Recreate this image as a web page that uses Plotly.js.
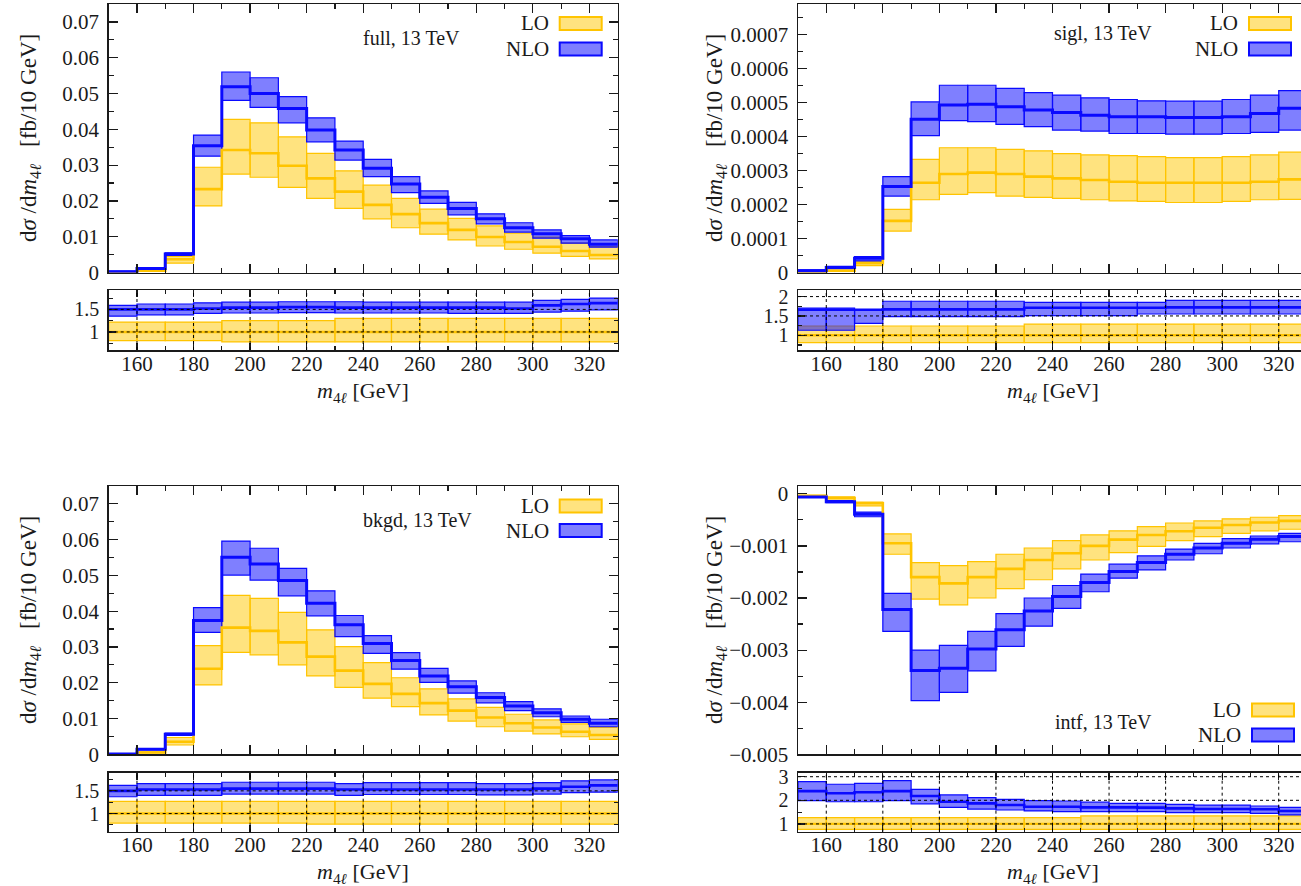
<!DOCTYPE html>
<html><head><meta charset="utf-8">
<script src="https://cdn.plot.ly/plotly-3.0.1.min.js"></script>
<style>html,body{margin:0;padding:0;background:#fff}#chart{width:1301px;height:886px}</style>
</head><body><div id="chart"></div><script>
// ---------------- DATA ----------------
const binEdges = [150,160,170,180,190,200,210,220,230,240,250,260,270,280,290,300,310,320,330];
const xTickVals = [160,180,200,220,240,260,280,300,320];
const xTickText = ['160','180','200','220','240','260','280','300','320'];

// full
const fullNLO   = [0.0002,0.0011,0.0052,0.0354,0.0519,0.0500,0.0458,0.0398,0.0342,0.0291,0.0247,0.0210,0.0179,0.0150,0.0125,0.0108,0.0094,0.0079];
const fullNLOhi = [0.0004,0.0013,0.0055,0.0384,0.0560,0.0544,0.0491,0.0432,0.0367,0.0316,0.0268,0.0228,0.0196,0.0164,0.0139,0.0119,0.0103,0.0091];
const fullNLOlo = [0.0001,0.0009,0.0048,0.0325,0.0481,0.0461,0.0418,0.0365,0.0314,0.0268,0.0223,0.0193,0.0161,0.0136,0.0113,0.0096,0.0082,0.0071];
const fullLO    = [0.0000,0.0005,0.0037,0.0233,0.0342,0.0333,0.0298,0.0263,0.0226,0.0189,0.0163,0.0138,0.0119,0.0099,0.0085,0.0072,0.0060,0.0049];
const fullLOhi  = [0.0001,0.0006,0.0045,0.0294,0.0428,0.0418,0.0379,0.0333,0.0284,0.0244,0.0207,0.0177,0.0151,0.0130,0.0110,0.0099,0.0082,0.0072];
const fullLOlo  = [0.0000,0.0004,0.0026,0.0186,0.0275,0.0266,0.0238,0.0207,0.0179,0.0150,0.0125,0.0107,0.0091,0.0074,0.0065,0.0054,0.0045,0.0038];
const fullRatLO    = [1,1,1,1,1,1,1,1,1,1,1,1,1,1,1,1,1,1];
const fullRatLOhi  = [1.22,1.22,1.22,1.22,1.25,1.25,1.25,1.25,1.30,1.30,1.30,1.30,1.30,1.30,1.30,1.30,1.30,1.30];
const fullRatLOlo  = [0.81,0.81,0.81,0.81,0.78,0.78,0.78,0.78,0.78,0.78,0.78,0.78,0.78,0.78,0.78,0.78,0.78,0.78];
const fullRatNLO   = [1.50,1.50,1.50,1.52,1.54,1.54,1.55,1.55,1.54,1.54,1.54,1.54,1.54,1.54,1.52,1.59,1.62,1.64];
const fullRatNLOhi = [1.59,1.62,1.62,1.645,1.66,1.66,1.67,1.67,1.67,1.66,1.66,1.66,1.66,1.66,1.66,1.70,1.72,1.75];
const fullRatNLOlo = [1.35,1.38,1.38,1.41,1.42,1.42,1.43,1.43,1.42,1.42,1.42,1.42,1.41,1.41,1.41,1.44,1.46,1.49];

// sigl
const siglNLO   = [0.000005,0.000015,0.000042,0.000253,0.000451,0.000493,0.000495,0.000488,0.000478,0.000471,0.000463,0.000458,0.000458,0.000456,0.000456,0.000458,0.000468,0.000483];
const siglNLOhi = [0.000008,0.000018,0.000047,0.000282,0.000502,0.000551,0.000551,0.000542,0.000529,0.000522,0.000514,0.000509,0.000505,0.000504,0.000504,0.000509,0.000522,0.000535];
const siglNLOlo = [0.000002,0.000011,0.000034,0.000225,0.000403,0.000447,0.000444,0.000436,0.000429,0.000419,0.000416,0.000409,0.000409,0.000407,0.000407,0.000409,0.000412,0.000419];
const siglLO    = [0.000001,0.000005,0.000027,0.000152,0.000264,0.000290,0.000294,0.000290,0.000282,0.000277,0.000272,0.000267,0.000264,0.000264,0.000264,0.000264,0.000267,0.000274];
const siglLOhi  = [0.000002,0.000007,0.000032,0.000186,0.000333,0.000367,0.000367,0.000362,0.000358,0.000350,0.000346,0.000344,0.000341,0.000338,0.000338,0.000341,0.000346,0.000354];
const siglLOlo  = [0.000001,0.000004,0.000020,0.000122,0.000214,0.000230,0.000235,0.000225,0.000221,0.000218,0.000214,0.000211,0.000209,0.000206,0.000206,0.000209,0.000214,0.000215];
const siglRatLO    = [1,1,1,1,1,1,1,1,1,1,1,1,1,1,1,1,1,1];
const siglRatLOhi  = [1.24,1.24,1.24,1.24,1.24,1.24,1.24,1.24,1.29,1.29,1.29,1.29,1.29,1.29,1.29,1.29,1.29,1.29];
const siglRatLOlo  = [0.81,0.81,0.81,0.81,0.81,0.81,0.81,0.81,0.81,0.81,0.81,0.81,0.81,0.81,0.81,0.81,0.81,0.81];
const siglRatNLO   = [1.66,1.66,1.66,1.67,1.67,1.67,1.67,1.67,1.71,1.71,1.71,1.71,1.71,1.72,1.72,1.72,1.72,1.72];
const siglRatNLOhi = [1.70,1.70,1.66,1.88,1.88,1.88,1.88,1.88,1.85,1.85,1.85,1.85,1.85,1.90,1.90,1.90,1.90,1.90];
const siglRatNLOlo = [1.13,1.13,1.31,1.48,1.48,1.48,1.48,1.48,1.51,1.51,1.51,1.51,1.55,1.55,1.55,1.55,1.55,1.55];

// bkgd
const bkgdNLO   = [0.0001,0.0014,0.0056,0.0374,0.0551,0.0532,0.0486,0.0422,0.0362,0.0310,0.0262,0.0219,0.0189,0.0159,0.0135,0.0116,0.0098,0.0087];
const bkgdNLOhi = [0.0002,0.0016,0.0059,0.0410,0.0596,0.0576,0.0520,0.0457,0.0388,0.0332,0.0284,0.0240,0.0205,0.0172,0.0147,0.0127,0.0107,0.0098];
const bkgdNLOlo = [0.0000,0.0012,0.0053,0.0341,0.0501,0.0487,0.0443,0.0387,0.0329,0.0282,0.0238,0.0201,0.0171,0.0144,0.0122,0.0105,0.0089,0.0077];
const bkgdLO    = [0.0000,0.0005,0.0035,0.0239,0.0354,0.0345,0.0313,0.0273,0.0234,0.0197,0.0169,0.0143,0.0122,0.0103,0.0087,0.0075,0.0063,0.0054];
const bkgdLOhi  = [0.0001,0.0007,0.0047,0.0304,0.0444,0.0436,0.0397,0.0348,0.0301,0.0256,0.0214,0.0183,0.0155,0.0131,0.0112,0.0096,0.0085,0.0075];
const bkgdLOlo  = [0.0000,0.0004,0.0026,0.0194,0.0285,0.0278,0.0250,0.0219,0.0187,0.0157,0.0133,0.0110,0.0093,0.0077,0.0065,0.0057,0.0049,0.0042];
const bkgdRatLO    = [1,1,1,1,1,1,1,1,1,1,1,1,1,1,1,1,1,1];
const bkgdRatLOhi  = [1.27,1.27,1.27,1.27,1.27,1.27,1.27,1.27,1.27,1.27,1.27,1.27,1.27,1.27,1.27,1.27,1.27,1.27];
const bkgdRatLOlo  = [0.79,0.79,0.79,0.79,0.79,0.79,0.79,0.765,0.765,0.765,0.765,0.765,0.765,0.765,0.765,0.765,0.765,0.765];
const bkgdRatNLO   = [1.50,1.53,1.53,1.53,1.55,1.55,1.55,1.55,1.53,1.53,1.53,1.53,1.53,1.53,1.53,1.55,1.59,1.62];
const bkgdRatNLOhi = [1.62,1.66,1.66,1.66,1.69,1.69,1.69,1.69,1.66,1.68,1.68,1.68,1.68,1.66,1.66,1.68,1.72,1.74];
const bkgdRatNLOlo = [1.37,1.40,1.40,1.40,1.43,1.43,1.43,1.43,1.40,1.42,1.42,1.42,1.42,1.41,1.41,1.43,1.46,1.47];

// intf
const intfNLO   = [-0.00006,-0.00015,-0.00039,-0.00222,-0.00339,-0.00335,-0.00298,-0.00261,-0.00225,-0.00197,-0.00170,-0.00149,-0.00132,-0.00116,-0.00104,-0.00095,-0.00087,-0.00082];
const intfNLOhi = [-0.00005,-0.00013,-0.00035,-0.00191,-0.00300,-0.00291,-0.00264,-0.00230,-0.00200,-0.00176,-0.00154,-0.00135,-0.00119,-0.00106,-0.00095,-0.00086,-0.00081,-0.00076];
const intfNLOlo = [-0.00007,-0.00017,-0.00044,-0.00264,-0.00397,-0.00381,-0.00340,-0.00293,-0.00254,-0.00220,-0.00188,-0.00162,-0.00146,-0.00127,-0.00115,-0.00104,-0.00096,-0.00092];
const intfLO    = [-0.00004,-0.00008,-0.00018,-0.00095,-0.00160,-0.00172,-0.00160,-0.00144,-0.00127,-0.00114,-0.00100,-0.00088,-0.00079,-0.00072,-0.00065,-0.00060,-0.00055,-0.00052];
const intfLOhi  = [-0.00003,-0.00006,-0.00016,-0.00077,-0.00132,-0.00138,-0.00130,-0.00116,-0.00104,-0.00090,-0.00079,-0.00071,-0.00063,-0.00056,-0.00052,-0.00048,-0.00045,-0.00042];
const intfLOlo  = [-0.00005,-0.00010,-0.00023,-0.00116,-0.00202,-0.00213,-0.00200,-0.00182,-0.00165,-0.00144,-0.00127,-0.00113,-0.00101,-0.00090,-0.00082,-0.00076,-0.00071,-0.00068];
const intfRatLO    = [1,1,1,1,1,1,1,1,1,1,1,1,1,1,1,1,1,1];
const intfRatLOhi  = [1.27,1.27,1.27,1.27,1.27,1.27,1.27,1.27,1.27,1.27,1.34,1.34,1.34,1.34,1.34,1.34,1.34,1.34];
const intfRatLOlo  = [0.77,0.77,0.77,0.77,0.77,0.77,0.77,0.77,0.77,0.77,0.77,0.77,0.77,0.77,0.77,0.77,0.77,0.77];
const intfRatNLO   = [2.39,2.30,2.34,2.39,2.18,1.94,1.87,1.80,1.73,1.73,1.70,1.70,1.69,1.66,1.63,1.63,1.62,1.55];
const intfRatNLOhi = [2.79,2.68,2.72,2.83,2.46,2.23,2.11,2.04,1.99,1.97,1.92,1.87,1.87,1.83,1.80,1.80,1.76,1.70];
const intfRatNLOlo = [1.99,1.94,1.94,1.99,1.85,1.70,1.63,1.59,1.55,1.52,1.52,1.52,1.52,1.48,1.48,1.48,1.45,1.38];

// tick labels
const fullYTickVals = [0,0.01,0.02,0.03,0.04,0.05,0.06,0.07];
const fullYTickText = ['0','0.01','0.02','0.03','0.04','0.05','0.06','0.07'];
const siglYTickVals = [0,0.0001,0.0002,0.0003,0.0004,0.0005,0.0006,0.0007];
const siglYTickText = ['0','0.0001','0.0002','0.0003','0.0004','0.0005','0.0006','0.0007'];
const intfYTickVals = [0,-0.001,-0.002,-0.003,-0.004,-0.005];
const intfYTickText = ['0','\u22120.001','\u22120.002','\u22120.003','\u22120.004','\u22120.005'];
const ratioTickValsA = [1,1.5];       const ratioTickTextA = ['1','1.5'];
const ratioTickValsB = [1,1.5,2];     const ratioTickTextB = ['1','1.5','2'];
const ratioTickValsC = [1,2,3];       const ratioTickTextC = ['1','2','3'];

const panelLabels = ['full, 13 TeV','sigl, 13 TeV','bkgd, 13 TeV','intf, 13 TeV'];
const legendNames = ['LO','NLO'];

// ---------------- STYLE ----------------
const W = 1301, H = 886;
const px = x => x / W, py = y => 1 - y / H;
const LOfill = 'rgba(255,200,0,0.5)', LOline = '#ffc400';
const NLOfill = 'rgba(0,0,255,0.5)', NLOline = '#0a0aff';
const FONT = "'Liberation Serif', 'DejaVu Serif', serif";
const INK = '#1a1a1a';

const centers = binEdges.slice(0, -1).map((e, i) => (e + binEdges[i + 1]) / 2);

function band(lo, hi, xa, ya, fill, line) {
  return {type:'bar', x:centers, base:lo.map((v,i)=>Math.min(v,hi[i])),
    y:lo.map((v,i)=>Math.abs(hi[i]-v)), width:10, xaxis:xa, yaxis:ya,
    marker:{color:fill, line:{color:line, width:1.2}}, hoverinfo:'skip', showlegend:false};
}
function step(vals, xa, ya, color, w) {
  return {type:'scatter', mode:'lines', x:binEdges, y:vals.concat([vals[vals.length-1]]),
    line:{shape:'hv', color:color, width:w}, xaxis:xa, yaxis:ya, hoverinfo:'skip', showlegend:false};
}
function panel(xa, ya, xr, yr, d) {
  return [
    band(d.LOlo, d.LOhi, xa, ya, LOfill, LOline),
    band(d.NLOlo, d.NLOhi, xa, ya, NLOfill, NLOline),
    step(d.LO, xa, ya, LOline, 2.6),
    step(d.NLO, xa, ya, NLOline, 3),
    band(d.RLOlo, d.RLOhi, xr, yr, LOfill, LOline),
    band(d.RNLOlo, d.RNLOhi, xr, yr, NLOfill, NLOline),
    step(d.RLO, xr, yr, LOline, 2.4),
    step(d.RNLO, xr, yr, NLOline, 2.6)
  ];
}

const data = [].concat(
  panel('x','y','x2','y2',{LO:fullLO,LOlo:fullLOlo,LOhi:fullLOhi,NLO:fullNLO,NLOlo:fullNLOlo,NLOhi:fullNLOhi,
    RLO:fullRatLO,RLOlo:fullRatLOlo,RLOhi:fullRatLOhi,RNLO:fullRatNLO,RNLOlo:fullRatNLOlo,RNLOhi:fullRatNLOhi}),
  panel('x3','y3','x4','y4',{LO:siglLO,LOlo:siglLOlo,LOhi:siglLOhi,NLO:siglNLO,NLOlo:siglNLOlo,NLOhi:siglNLOhi,
    RLO:siglRatLO,RLOlo:siglRatLOlo,RLOhi:siglRatLOhi,RNLO:siglRatNLO,RNLOlo:siglRatNLOlo,RNLOhi:siglRatNLOhi}),
  panel('x5','y5','x6','y6',{LO:bkgdLO,LOlo:bkgdLOlo,LOhi:bkgdLOhi,NLO:bkgdNLO,NLOlo:bkgdNLOlo,NLOhi:bkgdNLOhi,
    RLO:bkgdRatLO,RLOlo:bkgdRatLOlo,RLOhi:bkgdRatLOhi,RNLO:bkgdRatNLO,RNLOlo:bkgdRatNLOlo,RNLOhi:bkgdRatNLOhi}),
  panel('x7','y7','x8','y8',{LO:intfLO,LOlo:intfLOlo,LOhi:intfLOhi,NLO:intfNLO,NLOlo:intfNLOlo,NLOhi:intfNLOhi,
    RLO:intfRatLO,RLOlo:intfRatLOlo,RLOhi:intfRatLOhi,RNLO:intfRatNLO,RNLOlo:intfRatNLOlo,RNLOhi:intfRatNLOhi})
);

// geometry
const leftX = [px(108.7), px(617.7)];
const rightX = [px(798), 1];
const rightXEnd = 150 + (W - 798) / (509 / 180);
const topMain = [py(272.5), py(4)], topRatio = [py(350), py(290)];
const botMain = [py(754.3), py(486)], botRatio = [py(831.7), py(772.7)];

const tickFont = {family:FONT, size:21, color:INK};
const ratioTickFont = {family:FONT, size:20, color:INK};
function xAx(domain, range, anchor, isRatio) {
  return {domain, range, anchor, showline:true, linecolor:INK, linewidth:1.5, mirror:'allticks',
    ticks:'inside', ticklen:isRatio?7:9, tickwidth:1.2, tickcolor:INK,
    tickvals:xTickVals, ticktext:xTickText, showticklabels:isRatio, tickfont:tickFont,
    ticklabelstandoff:-6,
    minor:{ticks:'inside', ticklen:isRatio?4:5, tickcolor:INK, tickwidth:1.2, tick0:150, dtick:10, showgrid:false},
    showgrid:false, zeroline:false, fixedrange:true};
}
function yAx(domain, range, anchor, tv, tt, minorD, isRatio, mirror) {
  return {domain, range, anchor, showline:true, linecolor:INK, linewidth:1.5, mirror:mirror,
    ticks:'inside', ticklen:isRatio?7:9, tickwidth:1.2, tickcolor:INK,
    tickvals:tv, ticktext:tt, tickfont:isRatio?ratioTickFont:tickFont, ticklabelstandoff:4,
    minor:{ticks:'inside', ticklen:isRatio?4:5, tickcolor:INK, tickwidth:1.2, tick0:0, dtick:minorD, showgrid:false},
    showgrid:false, zeroline:false, fixedrange:true};
}

// grid lines in ratio panels (drawn above the bands, like the original)
const shapes = [];
function grid(xa, ya, yVals) {
  xTickVals.forEach(v => shapes.push({type:'line', xref:xa, yref:ya + ' domain', x0:v, x1:v, y0:0, y1:1,
    layer:'above', line:{color:'#000', width:1, dash:'dot'}}));
  yVals.forEach(v => shapes.push({type:'line', xref:xa + ' domain', yref:ya, x0:0, x1:1, y0:v, y1:v,
    layer:'above', line:{color:'#000', width:1, dash:'dot'}}));
}
grid('x2', 'y2', ratioTickValsA);
grid('x4', 'y4', ratioTickValsB);
grid('x6', 'y6', ratioTickValsA);
grid('x8', 'y8', ratioTickValsC);

// legend swatches (shapes) and text
const annotations = [];
function legend(swL, swR, yLO, yNLO) {
  [[yLO, LOfill, LOline, legendNames[0]], [yNLO, NLOfill, NLOline, legendNames[1]]].forEach(([yc, f, l, name]) => {
    shapes.push({type:'rect', xref:'paper', yref:'paper', x0:px(swL), x1:px(swR), y0:py(yc+6.5), y1:py(yc-6.5),
      fillcolor:f, line:{color:l, width:2}});
    annotations.push({xref:'paper', yref:'paper', x:px(swL-9), y:py(yc), xanchor:'right', yanchor:'middle',
      text:name, showarrow:false, font:{family:FONT, size:21, color:INK}});
  });
}
legend(559.7, 601.7, 23.5, 49);
legend(1249, 1291, 23.5, 49);
legend(559.7, 601.7, 506, 530.5);
legend(1252, 1294, 710, 735);

function label(text, x, y) {
  annotations.push({xref:'paper', yref:'paper', x:px(x), y:py(y), xanchor:'left', yanchor:'middle',
    text:text, showarrow:false, font:{family:FONT, size:20, color:INK}});
}
label(panelLabels[0], 361, 38);
label(panelLabels[1], 1052, 34);
label(panelLabels[2], 361, 520);
label(panelLabels[3], 1053, 722);

const yTitle = 'd<i>\u03c3</i> /d<i>m</i><sub>4<i>\u2113</i></sub>\u00a0\u00a0\u00a0[fb/10 GeV]';
const xTitle = '<i>m</i><sub>4<i>\u2113</i></sub> [GeV]';
function ytitle(x, y) {
  annotations.push({xref:'paper', yref:'paper', x:px(x), y:py(y), xanchor:'center', yanchor:'middle',
    textangle:-90, text:yTitle, showarrow:false, font:{family:FONT, size:23, color:INK}});
}
function xtitle(x, y) {
  annotations.push({xref:'paper', yref:'paper', x:px(x), y:py(y), xanchor:'center', yanchor:'middle',
    text:xTitle, showarrow:false, font:{family:FONT, size:22, color:INK}});
}
ytitle(30, 138); ytitle(716, 138); ytitle(30, 620); ytitle(716, 620);
xtitle(363, 392); xtitle(1053, 392); xtitle(363, 873); xtitle(1053, 873);

const layout = {
  width:W, height:H, margin:{l:0, r:0, t:0, b:0}, paper_bgcolor:'#fff', plot_bgcolor:'#fff',
  showlegend:false, barmode:'overlay', bargap:0,
  xaxis:  xAx(leftX, [150,330], 'y', false),
  yaxis:  yAx(topMain, [0,0.075], 'x', fullYTickVals, fullYTickText, 0.005, false, 'allticks'),
  xaxis2: xAx(leftX, [150,330], 'y2', true),
  yaxis2: yAx(topRatio, [0.6,1.93], 'x2', ratioTickValsA, ratioTickTextA, 0.25, true, 'allticks'),
  xaxis3: xAx(rightX, [150,rightXEnd], 'y3', false),
  yaxis3: yAx(topMain, [0,0.00079], 'x3', siglYTickVals, siglYTickText, 0.00005, false, false),
  xaxis4: xAx(rightX, [150,rightXEnd], 'y4', true),
  yaxis4: yAx(topRatio, [0.62,2.17], 'x4', ratioTickValsB, ratioTickTextB, 0.25, true, false),
  xaxis5: xAx(leftX, [150,330], 'y5', false),
  yaxis5: yAx(botMain, [0,0.075], 'x5', fullYTickVals, fullYTickText, 0.005, false, 'allticks'),
  xaxis6: xAx(leftX, [150,330], 'y6', true),
  yaxis6: yAx(botRatio, [0.6,1.9], 'x6', ratioTickValsA, ratioTickTextA, 0.25, true, 'allticks'),
  xaxis7: xAx(rightX, [150,rightXEnd], 'y7', false),
  yaxis7: yAx(botMain, [-0.005,0.00015], 'x7', intfYTickVals, intfYTickText, 0.0005, false, false),
  xaxis8: xAx(rightX, [150,rightXEnd], 'y8', true),
  yaxis8: yAx(botRatio, [0.67,3.17], 'x8', ratioTickValsC, ratioTickTextC, 0.5, true, false),
  shapes, annotations
};

Plotly.newPlot('chart', data, layout, {staticPlot:true, displayModeBar:false});
</script></body></html>
